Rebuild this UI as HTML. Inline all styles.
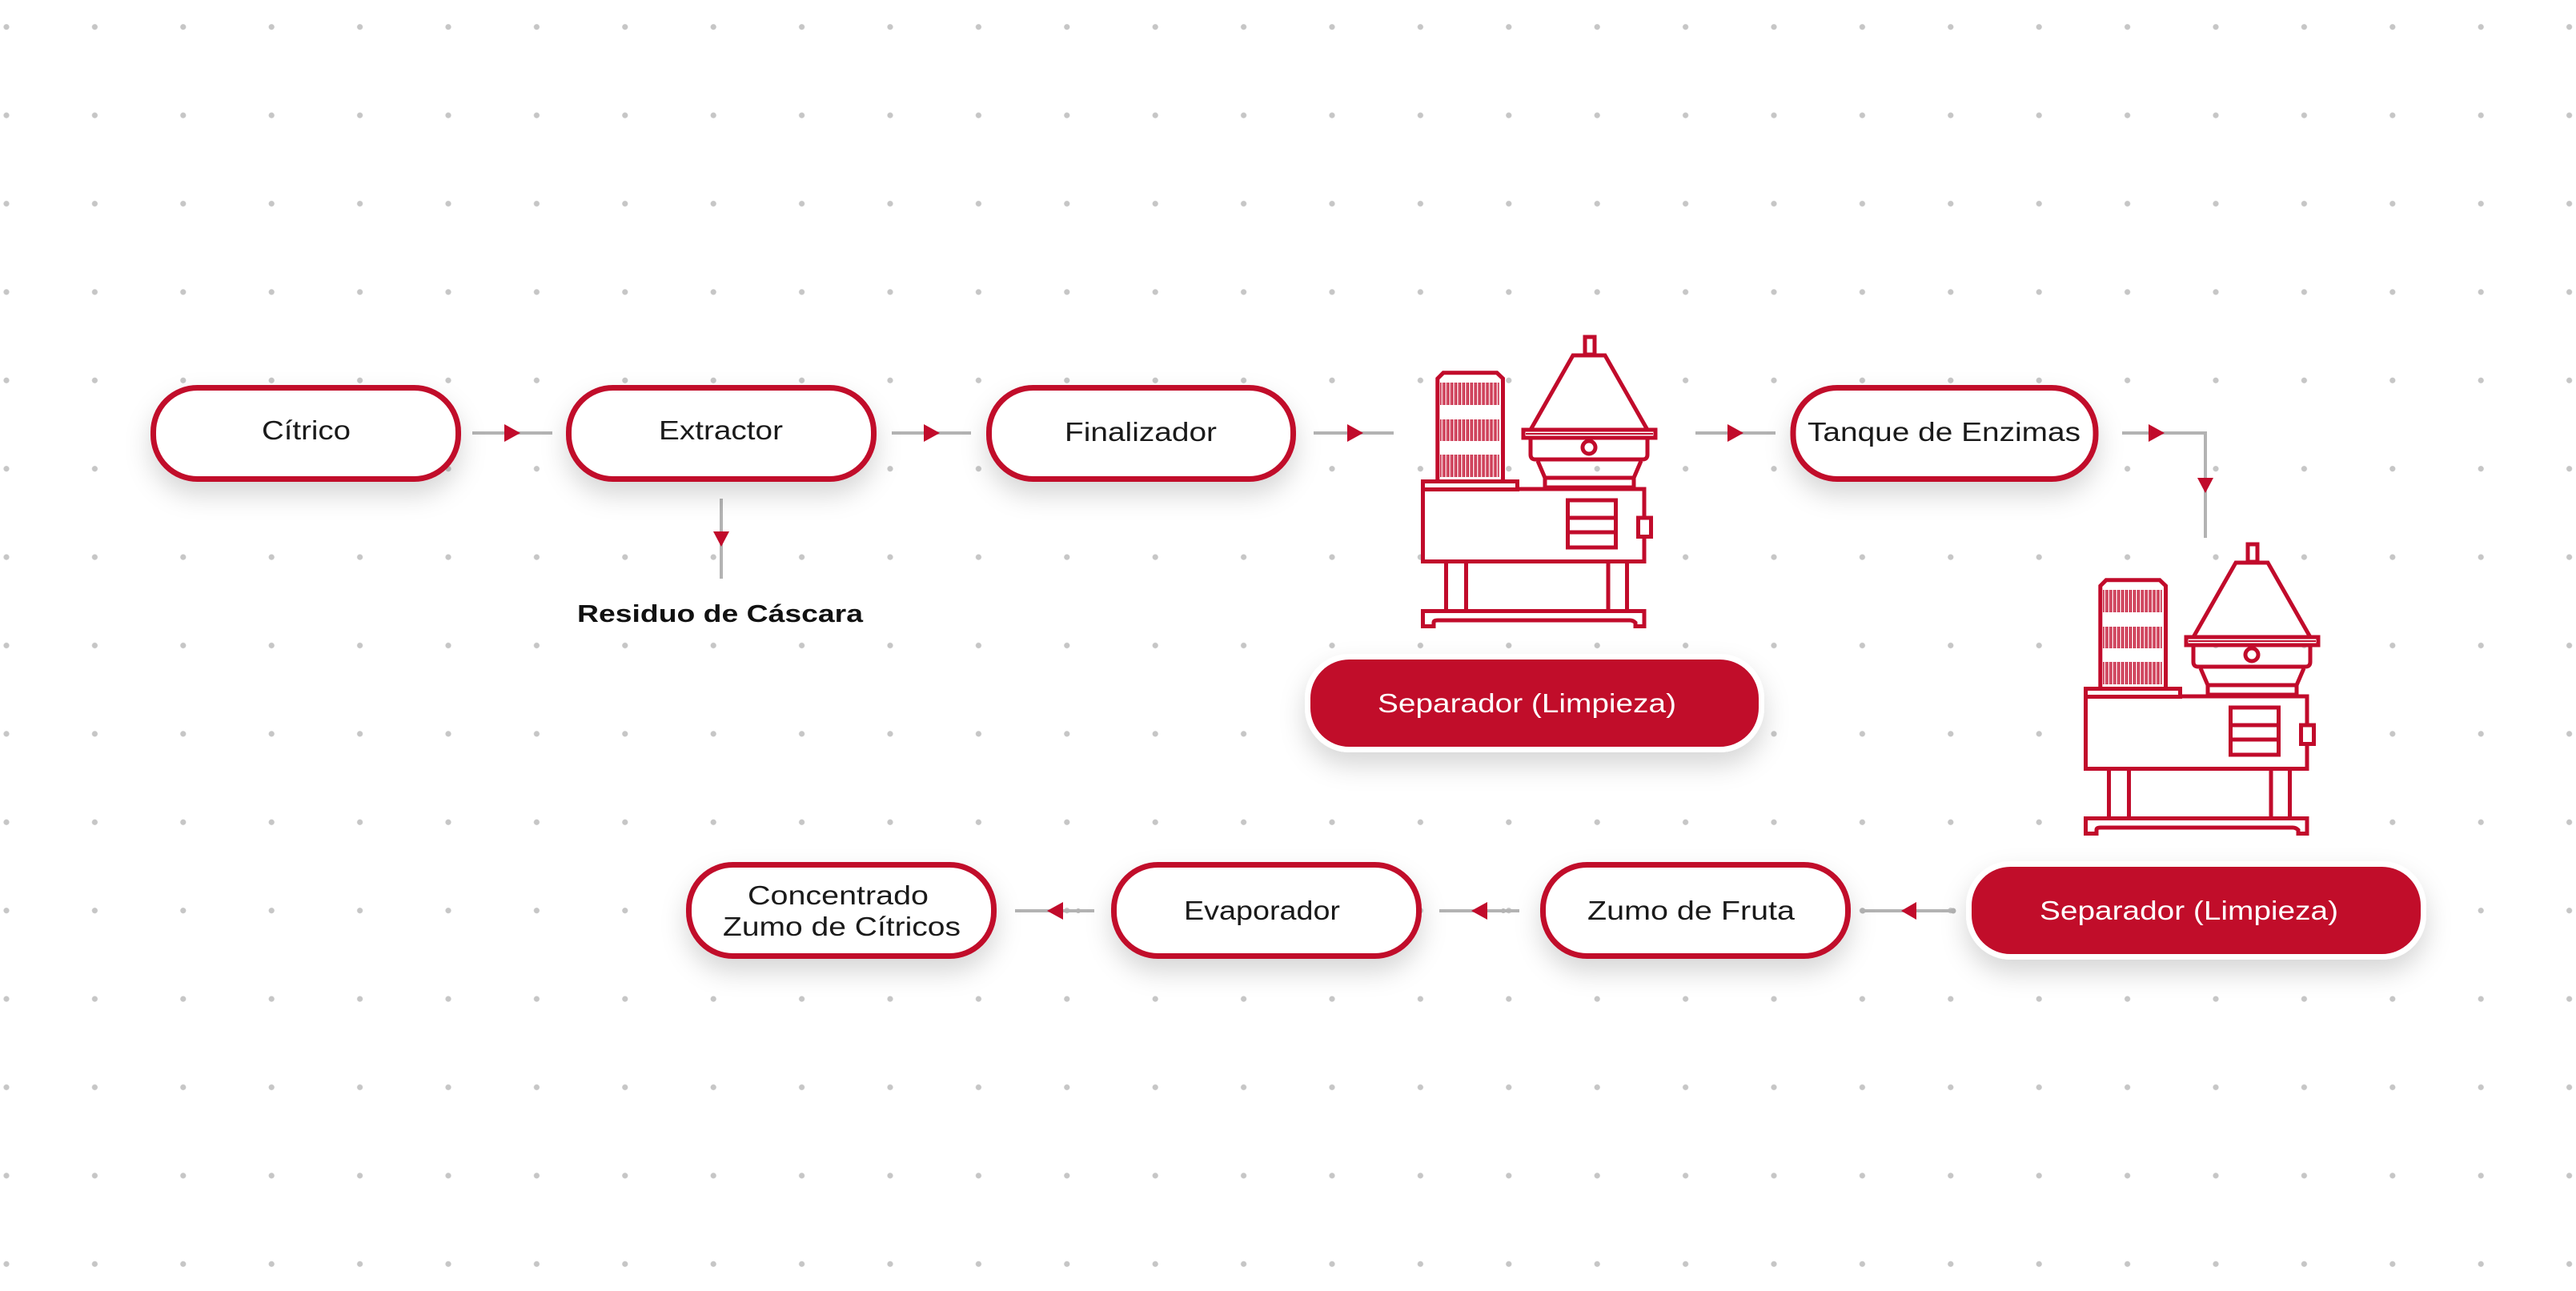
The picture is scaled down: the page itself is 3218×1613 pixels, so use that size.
<!DOCTYPE html>
<html><head><meta charset="utf-8"><style>
html,body{margin:0;padding:0;background:#fff;}
svg{display:block;}
text{font-family:"Liberation Sans",sans-serif;}
</style></head><body>
<svg width="3218" height="1613" viewBox="0 0 3218 1613" xmlns="http://www.w3.org/2000/svg">
<defs>
<pattern id="dots" patternUnits="userSpaceOnUse" x="-47.2" y="-21.5" width="110.4" height="110.4">
<circle cx="55.2" cy="55.2" r="3.6" fill="#c6c6c6"/>
</pattern>
<filter id="sh" x="-20%" y="-40%" width="140%" height="200%">
<feDropShadow dx="0" dy="16" stdDeviation="16" flood-color="#000" flood-opacity="0.16"/>
</filter>
<pattern id="slots" patternUnits="userSpaceOnUse" x="1799" y="0" width="4.93" height="2000">
<rect x="0.8" y="-10" width="3.2" height="3000" fill="#f6d6dc" stroke="#c10b2b" stroke-width="1.3"/>
</pattern>
<g id="mach" fill="none" stroke="#c10b2b" stroke-width="5" stroke-linejoin="miter">
<rect x="1980" y="421" width="12" height="22"/>
<polygon points="1965,444 2005,444 2058,537 1912,537" fill="#fff"/>
<rect x="1903" y="537" width="165" height="10" fill="#fff"/>
<line x1="1906" y1="542" x2="2065" y2="542" stroke-width="2"/>
<path d="M1912,547 L1912,568 Q1912,574 1918,574 L2052,574 Q2058,574 2058,568 L2058,547"/>
<circle cx="1985" cy="559" r="8"/>
<path d="M1921,576 L1930,597 L2041,597 L2050,576"/>
<rect x="1930" y="597" width="111" height="12"/>
<rect x="1777.5" y="611" width="276.5" height="90.5" fill="#fff"/>
<rect x="1777.5" y="601.5" width="118" height="10" fill="#fff"/>
<path d="M1795.8,599 L1795.8,473 L1803,465.8 L1870,465.8 L1877.5,473 L1877.5,599" fill="#fff"/>
<rect x="1799" y="478" width="74" height="28" fill="url(#slots)" stroke="none"/>
<rect x="1799" y="524" width="74" height="27" fill="url(#slots)" stroke="none"/>
<rect x="1799" y="568" width="74" height="28" fill="url(#slots)" stroke="none"/>
<rect x="1958.5" y="625" width="60" height="59"/>
<line x1="1958.5" y1="647" x2="2018.5" y2="647"/>
<line x1="1958.5" y1="665" x2="2018.5" y2="665"/>
<rect x="2046.5" y="647" width="16" height="23.5" fill="#fff"/>
<rect x="1806.5" y="701.5" width="25" height="62"/>
<rect x="2009" y="701.5" width="23.5" height="62"/>
<path d="M1777.5,763.5 L2054,763.5 L2054,782.5 L2043,782.5 L2043,778 Q2040,775 2036,775 L1796,775 Q1791,775 1791,778 L1791,782.5 L1777.5,782.5 Z" fill="#fff"/>
</g>
</defs>
<rect width="3218" height="1613" fill="#fff"/>
<rect width="3218" height="1613" fill="url(#dots)"/>

<!-- connectors -->
<g stroke="#b3b3b3" stroke-width="4" fill="none">
<line x1="590" y1="541" x2="690" y2="541"/>
<line x1="1114" y1="541" x2="1213" y2="541"/>
<line x1="1641" y1="541" x2="1741" y2="541"/>
<line x1="2118" y1="541" x2="2218" y2="541"/>
<polyline points="2651,541 2755,541 2755,672"/>
<line x1="901" y1="623" x2="901" y2="723"/>
<line x1="1268" y1="1138" x2="1367" y2="1138"/>
<line x1="1798" y1="1138" x2="1898" y2="1138"/>
<line x1="2327" y1="1138" x2="2440" y2="1138"/>
</g>
<g fill="#b3b3b3"><circle cx="2327" cy="1138" r="3.5"/><circle cx="2440" cy="1138" r="3.5"/><circle cx="1878" cy="1138" r="3"/><circle cx="1347" cy="1138" r="3"/></g>
<g fill="#c10b2b">
<polygon points="630,530 650,541 630,552"/>
<polygon points="1154,530 1174,541 1154,552"/>
<polygon points="1683,530 1703,541 1683,552"/>
<polygon points="2158,530 2178,541 2158,552"/>
<polygon points="2684,530 2704,541 2684,552"/>
<polygon points="2745,597 2765,597 2755,616"/>
<polygon points="891,664 911,664 901,683"/>
<polygon points="1328,1127 1308,1138 1328,1149"/>
<polygon points="1858,1127 1838,1138 1858,1149"/>
<polygon points="2394,1127 2375,1138 2394,1149"/>
</g>

<!-- white boxes -->
<g fill="#fff" stroke="#c10b2b" stroke-width="7" filter="url(#sh)">
<rect x="191.5" y="484.5" width="381" height="114" rx="55"/>
<rect x="710.5" y="484.5" width="381" height="114" rx="55"/>
<rect x="1235.5" y="484.5" width="380" height="114" rx="55"/>
<rect x="2240" y="484.5" width="378" height="114" rx="55"/>
<rect x="860.5" y="1080.5" width="381" height="114" rx="55"/>
<rect x="1391.5" y="1080.5" width="381" height="114" rx="55"/>
<rect x="1927.5" y="1080.5" width="381" height="114" rx="55"/>
</g>
<!-- red pills -->
<g fill="#c10b2b" stroke="#fff" stroke-width="7" filter="url(#sh)">
<rect x="1633.5" y="820.5" width="567" height="116" rx="52"/>
<rect x="2459.5" y="1079.5" width="568" height="116" rx="52"/>
</g>

<use href="#mach"/>
<use href="#mach" transform="translate(828,259)"/>

<g fill="#1a1a1a" font-size="33">
<text x="327" y="549" textLength="111" lengthAdjust="spacingAndGlyphs">Cítrico</text>
<text x="823" y="549" textLength="155" lengthAdjust="spacingAndGlyphs">Extractor</text>
<text x="1330" y="551" textLength="190" lengthAdjust="spacingAndGlyphs">Finalizador</text>
<text x="2258" y="551" textLength="341" lengthAdjust="spacingAndGlyphs">Tanque de Enzimas</text>
<text x="934" y="1130" textLength="226" lengthAdjust="spacingAndGlyphs">Concentrado</text>
<text x="903" y="1169" textLength="297" lengthAdjust="spacingAndGlyphs">Zumo de Cítricos</text>
<text x="1479" y="1149" textLength="195" lengthAdjust="spacingAndGlyphs">Evaporador</text>
<text x="1983" y="1149" textLength="259" lengthAdjust="spacingAndGlyphs">Zumo de Fruta</text>
</g>
<g fill="#fff" font-size="33">
<text x="1721" y="890" textLength="373" lengthAdjust="spacingAndGlyphs">Separador (Limpieza)</text>
<text x="2548" y="1149" textLength="373" lengthAdjust="spacingAndGlyphs">Separador (Limpieza)</text>
</g>
<text x="721" y="777" font-size="31" font-weight="bold" fill="#111" textLength="357" lengthAdjust="spacingAndGlyphs">Residuo de Cáscara</text>
</svg>
</body></html>
